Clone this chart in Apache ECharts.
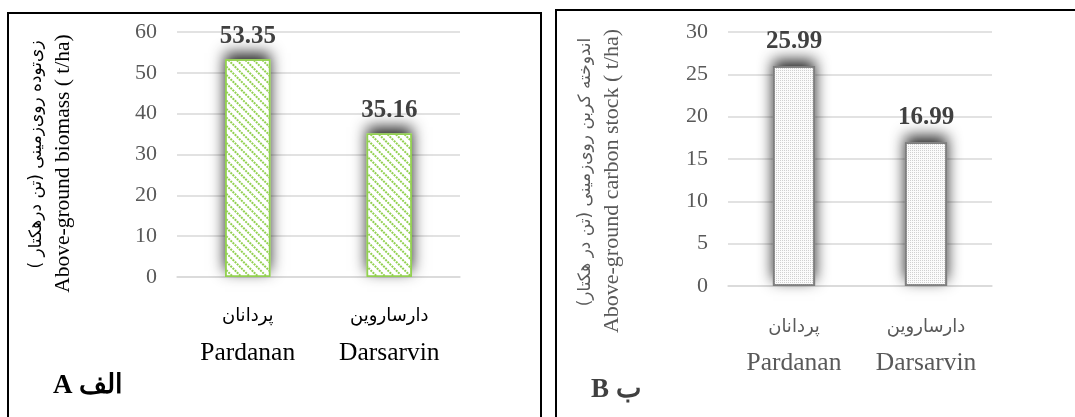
<!DOCTYPE html>
<html><head><meta charset="utf-8">
<script src="https://cdn.jsdelivr.net/npm/echarts@6/dist/echarts.min.js"></script>
<style>html,body{margin:0;padding:0;background:#fff}#c{width:1075px;height:417px}</style>
</head><body><div id="c"></div>
<script>
const categoriesFa = ['پردانان', 'دارساروین'];
const categoriesEn = ['Pardanan', 'Darsarvin'];
const biomass = [53.35, 35.16];
const carbon = [25.99, 16.99];
const yNameFaA = 'زی‌توده روی‌زمینی (تن درهکتار )';
const yNameEnA = 'Above-ground biomass ( t/ha)';
const yNameFaB = 'اندوخته کربن روی‌زمینی (تن در هکتار)';
const yNameEnB = 'Above-ground carbon stock ( t/ha)';
const panelA = 'A الف';
const panelB = 'B ب';

const serif = "'Liberation Serif','Times New Roman',serif";
const fa = "'DejaVu Sans',sans-serif";
const cats = categoriesFa.map((f, i) => f + '|' + categoriesEn[i]);

function catFmt(v){ const p = v.split('|'); return '{fa|' + p[0] + '}\n{en|' + p[1] + '}'; }

const shadowStyle = {color: '#ffffff', shadowBlur: 14, shadowColor: 'rgba(0,0,0,0.85)', shadowOffsetY: -6};

const chart = echarts.init(document.getElementById('c'));
chart.setOption({
  animation: false,
  backgroundColor: '#fff',
  grid: [
    {left: 177, right: 615, top: 32, bottom: 140},
    {left: 728, right: 83, top: 32, bottom: 131}
  ],
  xAxis: [
    {gridIndex: 0, type: 'category', data: cats,
     axisLine: {show: true, lineStyle: {color: '#d9d9d9', width: 1.5}}, axisTick: {show: false},
     axisLabel: {margin: 21, formatter: catFmt, rich: {
       fa: {fontFamily: fa, fontSize: 18, color: '#000', lineHeight: 37},
       en: {fontFamily: serif, fontSize: 25.5, color: '#000', lineHeight: 37}}}},
    {gridIndex: 1, type: 'category', data: cats,
     axisLine: {show: true, lineStyle: {color: '#d9d9d9', width: 1.5}}, axisTick: {show: false},
     axisLabel: {margin: 23, formatter: catFmt, rich: {
       fa: {fontFamily: fa, fontSize: 18, color: '#595959', lineHeight: 36},
       en: {fontFamily: serif, fontSize: 25.5, color: '#595959', lineHeight: 36}}}}
  ],
  yAxis: [
    {gridIndex: 0, type: 'value', min: 0, max: 60, interval: 10,
     axisLabel: {fontFamily: serif, fontSize: 22, color: '#595959', margin: 20},
     splitLine: {lineStyle: {color: '#d9d9d9', width: 1.5}},
     name: '{fa|' + yNameFaA + '}\n{en|' + yNameEnA + '}',
     nameLocation: 'middle', nameRotate: 90, nameGap: 100,
     nameTextStyle: {rich: {
       fa: {fontFamily: fa, fontSize: 17, color: '#000', lineHeight: 27, align: 'center'},
       en: {fontFamily: serif, fontSize: 21.5, color: '#000', lineHeight: 27, align: 'center', padding: [0, 18, 0, 0]}}}},
    {gridIndex: 1, type: 'value', min: 0, max: 30, interval: 5,
     axisLabel: {fontFamily: serif, fontSize: 22, color: '#595959', margin: 20},
     splitLine: {lineStyle: {color: '#d9d9d9', width: 1.5}},
     name: '{fa|' + yNameFaB + '}\n{en|' + yNameEnB + '}',
     nameLocation: 'middle', nameRotate: 90, nameGap: 102,
     nameTextStyle: {padding: [0, 26, 0, 0], rich: {
       fa: {fontFamily: fa, fontSize: 17, color: '#595959', lineHeight: 27, align: 'center'},
       en: {fontFamily: serif, fontSize: 22, color: '#595959', lineHeight: 27, align: 'center', padding: [0, 18, 0, 0]}}}}
  ],
  series: [
    {type: 'bar', xAxisIndex: 0, yAxisIndex: 0, data: biomass, barWidth: '32%', silent: true,
     itemStyle: shadowStyle},
    {type: 'bar', xAxisIndex: 0, yAxisIndex: 0, data: biomass, barWidth: '32%', barGap: '-100%',
     itemStyle: {color: '#ffffff', borderColor: '#92d050', borderWidth: 1.5,
       decal: {symbol: 'rect', symbolSize: 1, color: '#92d050', dashArrayX: [2, 1], dashArrayY: [1.6, 3.2], rotation: Math.PI / 4}},
     label: {show: true, position: 'top', distance: 10, fontFamily: serif, fontWeight: 'bold', fontSize: 25, color: '#404040'}},
    {type: 'bar', xAxisIndex: 1, yAxisIndex: 1, data: carbon, barWidth: '32%', silent: true,
     itemStyle: shadowStyle},
    {type: 'bar', xAxisIndex: 1, yAxisIndex: 1, data: carbon, barWidth: '32%', barGap: '-100%',
     itemStyle: {color: '#fbfbfb', borderColor: '#7f7f7f', borderWidth: 1.8,
       decal: {symbol: 'rect', symbolSize: 1, color: '#d0d0d0', dashArrayX: [1, 1], dashArrayY: [1, 1]}},
     label: {show: true, position: 'top', distance: 12, fontFamily: serif, fontWeight: 'bold', fontSize: 25, color: '#404040'}}
  ],
  graphic: [
    {type: 'rect', shape: {x: 8, y: 13, width: 533, height: 420}, style: {fill: 'none', stroke: '#000', lineWidth: 2}, silent: true},
    {type: 'rect', shape: {x: 556, y: 10, width: 540, height: 420}, style: {fill: 'none', stroke: '#000', lineWidth: 2}, silent: true},
    {type: 'text', left: 53, top: 373, style: {text: panelA, font: "bold 27px 'Liberation Serif', serif", fill: '#000'}},
    {type: 'text', left: 591, top: 377, style: {text: panelB, font: "bold 27px 'Liberation Serif', serif", fill: '#404040'}}
  ]
});
</script></body></html>
